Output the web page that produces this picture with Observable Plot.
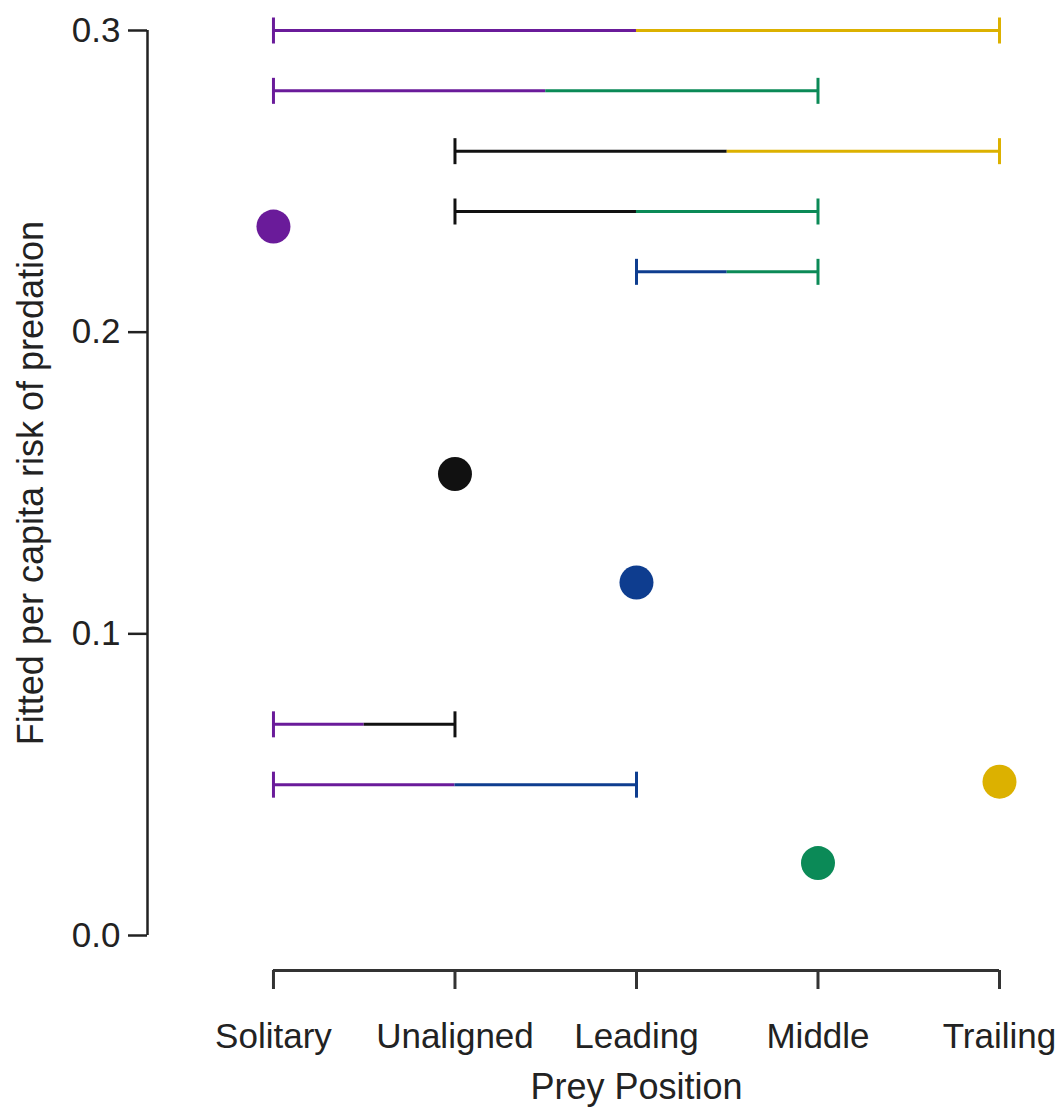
<!DOCTYPE html>
<html>
<head>
<meta charset="utf-8">
<script src="https://cdn.jsdelivr.net/npm/d3@7"></script>
<script src="https://cdn.jsdelivr.net/npm/@observablehq/plot@0.6"></script>
<style>
  html, body { margin: 0; padding: 0; background: #fff; }
  #chart svg { display: block; font-family: "Liberation Sans", Arial, Helvetica, sans-serif; }
</style>
</head>
<body>
<div id="chart"></div>
<script>
// Categories and fitted values
const categories = ["Solitary", "Unaligned", "Leading", "Middle", "Trailing"];
const fitted = [0.235, 0.153, 0.117, 0.024, 0.051];
const colors = ["#6a1b9a", "#111111", "#0e3d8f", "#0b8a57", "#dcb100"];

// Pairwise comparison brackets
const compFrom = [0, 0, 1, 1, 2, 0, 0];
const compTo   = [4, 3, 4, 3, 3, 1, 2];
const compY    = [0.30, 0.28, 0.26, 0.24, 0.22, 0.07, 0.05];

const yTicks = [0, 0.1, 0.2, 0.3];
const xTicks = [0, 1, 2, 3, 4];
const xDomain = [-0.694, 4];
const yLabel = "Fitted per capita risk of predation";
const xLabel = "Prey Position";

const points = categories.map((c, i) => ({i, c, v: fitted[i], color: colors[i]}));
const comps = compFrom.map((f, k) => ({
  from: f, to: compTo[k], mid: (f + compTo[k]) / 2, y: compY[k],
  c1: colors[f], c2: colors[compTo[k]]
}));
const caps = comps.flatMap(d => [{x: d.from, y: d.y, color: d.c1}, {x: d.to, y: d.y, color: d.c2}]);

const vbar = {
  draw(context, size) {
    const h = Math.sqrt(size / Math.PI);
    context.moveTo(0, -h);
    context.lineTo(0, h);
  }
};

const chart = Plot.plot({
  width: 1060,
  height: 1111,
  marginLeft: 147,
  marginRight: 61,
  marginTop: 30,
  marginBottom: 176,
  style: {fontFamily: "'Liberation Sans', Arial, Helvetica, sans-serif", color: "#222", background: "#fff"},
  x: {type: "linear", domain: xDomain, axis: null},
  y: {domain: [0, 0.3], axis: null},
  marks: [
    // y axis
    Plot.ruleX([xDomain[0]], {y1: yTicks[0], y2: yTicks[yTicks.length - 1], stroke: "#222", strokeWidth: 2.5}),
    Plot.axisY({ticks: yTicks, tickFormat: d3.format(".1f"), tickSize: 19, tickPadding: 8,
      fontSize: 35, label: null, stroke: "#222", strokeWidth: 2.5, strokeOpacity: 1, fill: "#222"}),
    // x axis (offset below)
    Plot.ruleY([0], {x1: xTicks[0], x2: xTicks[xTicks.length - 1], dy: 35, stroke: "#333", strokeWidth: 3}),
    Plot.axisX({ticks: xTicks, tickFormat: i => categories[i], tickSize: 19, tickPadding: 34, dy: 35,
      fontSize: 35, label: null, stroke: "#333", strokeWidth: 3, strokeOpacity: 1, fill: "#222"}),
    // axis titles
    Plot.text([xLabel], {x: (xTicks[0] + xTicks[xTicks.length - 1]) / 2, y: 0, dy: 163, lineAnchor: "bottom",
      fontSize: 36, fill: "#222"}),
    Plot.text([yLabel], {frameAnchor: "left", textAnchor: "middle", rotate: -90, dx: -116, lineAnchor: "middle",
      fontSize: 36, fill: "#222"}),
    // comparison brackets
    Plot.ruleY(comps, {y: "y", x1: "from", x2: "mid", stroke: "c1", strokeWidth: 3}),
    Plot.ruleY(comps, {y: "y", x1: "mid", x2: "to", stroke: "c2", strokeWidth: 3}),
    Plot.dot(caps, {x: "x", y: "y", r: 13, symbol: vbar, stroke: "color", fill: "none", strokeWidth: 3}),
    // fitted values
    Plot.dot(points, {x: "i", y: "v", r: 17, fill: "color", stroke: "none"})
  ]
});

document.getElementById("chart").appendChild(chart);
</script>
</body>
</html>
